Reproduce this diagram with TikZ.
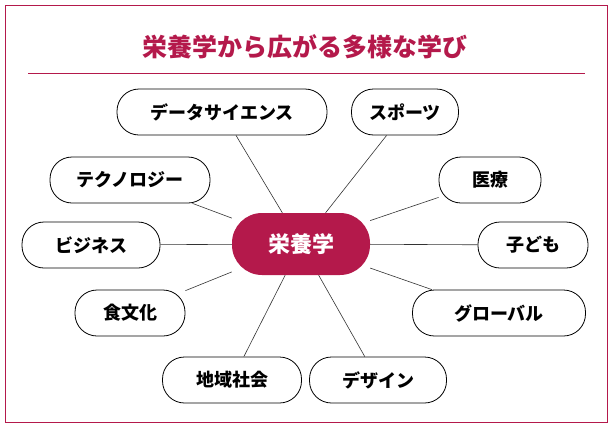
\documentclass[tikz,border=0pt]{standalone}
\usepackage{fontspec}
\newfontfamily\jpfont{Noto Sans CJK JP}
\usetikzlibrary{positioning}
\definecolor{eiyored}{RGB}{180,25,75}
\tikzset{
  topic/.style={draw=black,line width=0.8pt,fill=white,rounded corners=22pt,
    minimum height=46pt,inner xsep=14pt,font=\jpfont\bfseries\fontsize{18}{18}\selectfont},
  hub/.style={fill=eiyored,text=white,rounded corners=30pt,minimum width=138pt,
    minimum height=62pt,font=\jpfont\bfseries\fontsize{22}{22}\selectfont},
  spoke/.style={draw=black!80,line width=0.6pt}
}
\begin{document}
\begin{tikzpicture}[x=1pt,y=-1pt]
  \useasboundingbox (0,0) rectangle (612,434);
  \draw[eiyored,line width=1pt] (5,5) rectangle (607,422);
  \node[text=eiyored,font=\jpfont\bfseries\fontsize{25}{25}\selectfont] (title) at (305,47) {栄養学から広がる多様な学び};
  \draw[eiyored,line width=0.8pt] (28,73) -- (585,73);

  \node[hub] (hub) at (301,244) {栄養学};

  \node[topic,minimum width=210pt] (ds) at (222,112) {データサイエンス};
  \node[topic,minimum width=107pt] (sp) at (405,112) {スポーツ};
  \node[topic,minimum width=160pt] (tech) at (130,180) {テクノロジー};
  \node[topic,minimum width=102pt] (med) at (490,180) {医療};
  \node[topic,minimum width=138pt] (biz) at (91,245) {ビジネス};
  \node[topic,minimum width=110pt] (kids) at (533,245) {子ども};
  \node[topic,minimum width=110pt] (food) at (130,313) {食文化};
  \node[topic,minimum width=173pt] (glob) at (499,313) {グローバル};
  \node[topic,minimum width=139pt] (local) at (232,380) {地域社会};
  \node[topic,minimum width=137pt] (des) at (378,380) {デザイン};

  \foreach \n in {ds,sp,tech,med,biz,kids,food,glob,local,des}
    \draw[spoke] (hub) -- (\n);
\end{tikzpicture}
\end{document}
